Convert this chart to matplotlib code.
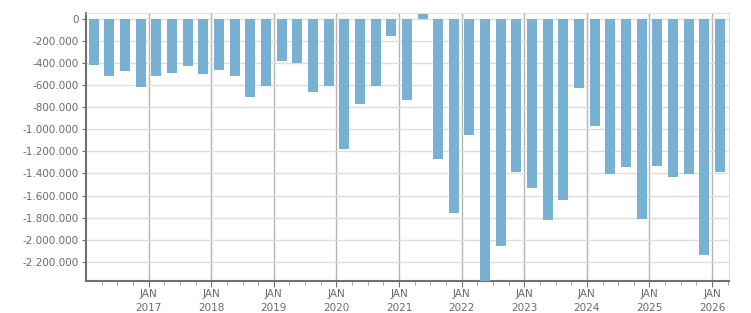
import numpy as np
import matplotlib
matplotlib.use("Agg")
import matplotlib.pyplot as plt
from matplotlib.ticker import FuncFormatter, FixedLocator

# quarterly values, Q1 2016 .. Q1 2026
quarters = [f"{y}Q{q}" for y in range(2016, 2027) for q in range(1, 5)][:41]
values = [
    -418000, -518000, -470000, -618000,   # 2016
    -518000, -491000, -427000, -500000,   # 2017
    -464000, -518000, -709000, -609000,   # 2018
    -382000, -400000, -664000, -609000,   # 2019
    -1182000, -773000, -609000, -155000,  # 2020
    -736000, 45000, -1273000, -1755000,   # 2021
    -1055000, -2373000, -2055000, -1391000,  # 2022
    -1527000, -1818000, -1636000, -627000,   # 2023
    -973000, -1409000, -1345000, -1809000,   # 2024
    -1336000, -1436000, -1409000, -2136000,  # 2025
    -1391000,                                # 2026
]
years = list(range(2017, 2027))
y_ticks = list(range(0, -2400000, -200000))

# bar centres in the middle of each quarter
x = np.array([int(q[:4]) + (int(q[-1]) - 1) * 0.25 + 0.125 for q in quarters])

fig = plt.figure(figsize=(7.51, 3.13), dpi=100)
ax = fig.add_axes([86 / 751, 32 / 313, 643 / 751, 268 / 313])

ax.bar(x, values, width=0.16, color='#79b1d3', zorder=3)

ax.set_xlim(2016, 2026.27)
ax.set_ylim(min(values), 52000)

ax.xaxis.set_major_locator(FixedLocator(years))
ax.xaxis.set_minor_locator(FixedLocator(np.arange(2016.25, 2026.3, 0.25)))
ax.set_xticklabels([f"JAN\n{y}" for y in years])
ax.set_yticks(y_ticks)
ax.yaxis.set_major_formatter(FuncFormatter(lambda v, p: f"{int(v):,}".replace(",", ".")))

ax.grid(axis='y', color='#dddddd', linewidth=1, zorder=0)
ax.grid(axis='x', color='#b5b5b5', linewidth=1, zorder=0)

for s in ['top', 'right']:
    ax.spines[s].set_color('#dddddd')
for s in ['left', 'bottom']:
    ax.spines[s].set_color('#707070')
    ax.spines[s].set_linewidth(1.5)

ax.tick_params(axis='y', length=3, color='#707070', labelsize=7.5, labelcolor='#6a6a6a', pad=2)
ax.tick_params(axis='x', which='major', length=4, color='#707070', labelsize=7.5, labelcolor='#6a6a6a', pad=2)
ax.tick_params(axis='x', which='minor', length=3, color='#909090')
for lbl in ax.get_xticklabels():
    lbl.set_linespacing(1.5)

fig.savefig('out.png', dpi=100)
